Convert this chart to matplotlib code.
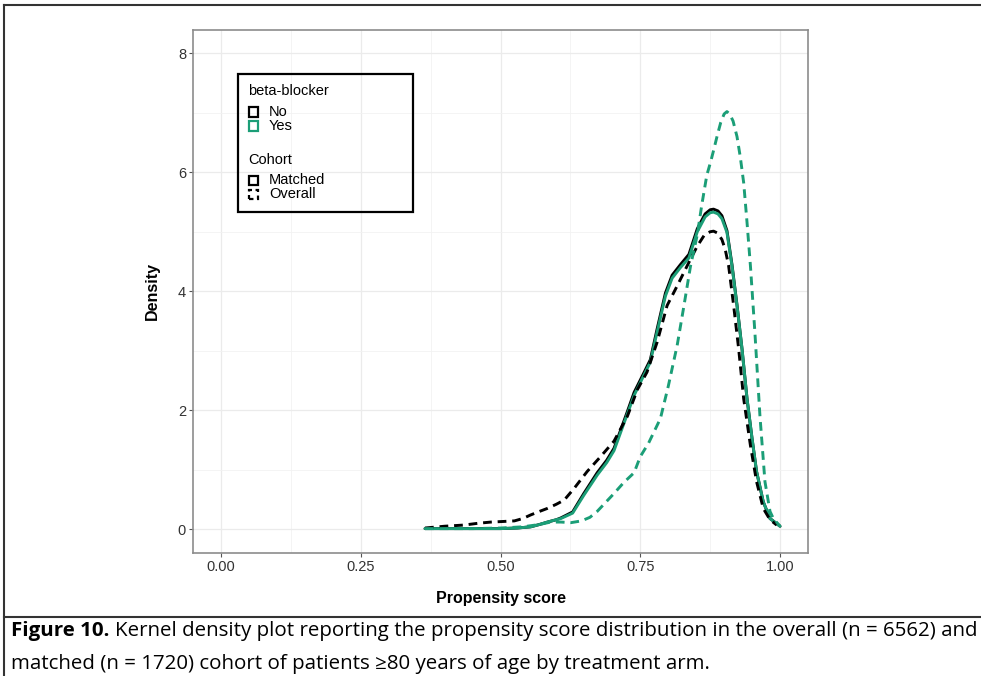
import numpy as np
import matplotlib
matplotlib.use("Agg")
import matplotlib.pyplot as plt
from matplotlib.patches import Rectangle
from matplotlib.lines import Line2D

# Density curves (propensity score vs density)
no_overall_x = [0.365, 0.40, 0.435, 0.46, 0.483, 0.505, 0.525, 0.54, 0.554, 0.57,
                0.584, 0.60, 0.614, 0.632, 0.655, 0.679, 0.703, 0.727, 0.745, 0.762,
                0.780, 0.798, 0.816, 0.834, 0.852, 0.865, 0.875, 0.881, 0.888, 0.896,
                0.902, 0.908, 0.917, 0.926, 0.935, 0.947, 0.958, 0.970, 0.982, 0.994]
no_overall_y = [0.02, 0.05, 0.07, 0.10, 0.12, 0.13, 0.14, 0.18, 0.24, 0.30,
                0.35, 0.42, 0.49, 0.69, 0.97, 1.22, 1.48, 1.90, 2.35, 2.64,
                3.14, 3.76, 4.09, 4.43, 4.76, 4.95, 5.00, 5.01, 4.98, 4.87,
                4.70, 4.43, 3.76, 3.03, 2.19, 1.41, 0.80, 0.35, 0.16, 0.07]

matched_x = [0.365, 0.40, 0.45, 0.50, 0.53, 0.554, 0.57, 0.584, 0.60, 0.608,
             0.629, 0.649, 0.673, 0.690, 0.703, 0.727, 0.739, 0.756, 0.768, 0.780,
             0.795, 0.807, 0.822, 0.837, 0.852, 0.866, 0.875, 0.881, 0.889, 0.896,
             0.905, 0.914, 0.923, 0.932, 0.941, 0.950, 0.958, 0.970, 0.982, 1.0]
no_matched_y = [0.01, 0.01, 0.01, 0.01, 0.02, 0.04, 0.08, 0.12, 0.16, 0.19,
                0.29, 0.60, 0.95, 1.16, 1.36, 1.98, 2.30, 2.62, 2.85, 3.36,
                3.97, 4.27, 4.45, 4.62, 5.05, 5.30, 5.37, 5.38, 5.35, 5.27,
                5.02, 4.45, 3.77, 3.03, 2.19, 1.52, 0.97, 0.46, 0.18, 0.05]
yes_matched_y = [0.01, 0.01, 0.01, 0.01, 0.02, 0.04, 0.08, 0.12, 0.16, 0.18,
                 0.27, 0.57, 0.91, 1.12, 1.32, 1.94, 2.25, 2.58, 2.81, 3.31,
                 3.92, 4.22, 4.40, 4.56, 5.00, 5.25, 5.32, 5.33, 5.30, 5.22,
                 4.99, 4.43, 3.76, 3.03, 2.19, 1.52, 0.97, 0.46, 0.18, 0.05]

yes_overall_x = [0.365, 0.40, 0.45, 0.50, 0.54, 0.57, 0.59, 0.608, 0.626, 0.645,
                 0.660, 0.673, 0.688, 0.703, 0.720, 0.739, 0.750, 0.765, 0.786, 0.800,
                 0.816, 0.828, 0.840, 0.852, 0.860, 0.869, 0.876, 0.882, 0.888, 0.894,
                 0.900, 0.905, 0.910, 0.916, 0.923, 0.929, 0.935, 0.941, 0.947, 0.955,
                 0.964, 0.973, 0.982, 0.988, 1.0]
yes_overall_y = [0.01, 0.01, 0.01, 0.02, 0.04, 0.08, 0.12, 0.12, 0.11, 0.14,
                 0.20, 0.30, 0.45, 0.60, 0.78, 0.95, 1.22, 1.45, 1.86, 2.40,
                 3.09, 3.75, 4.43, 4.95, 5.45, 5.95, 6.18, 6.40, 6.63, 6.84,
                 6.98, 7.02, 6.98, 6.86, 6.60, 6.25, 5.82, 5.15, 4.43, 3.31,
                 1.91, 0.80, 0.30, 0.18, 0.05]

x_ticks = [0.00, 0.25, 0.50, 0.75, 1.00]
x_ticklabels = ["0.00", "0.25", "0.50", "0.75", "1.00"]
y_ticks = [0, 2, 4, 6, 8]

caption_bold = "Figure 10."
caption_line1 = "Kernel density plot reporting the propensity score distribution in the overall (n = 6562) and"
caption_line2 = "matched (n = 1720) cohort of patients \u226580 years of age by treatment arm."

GREEN = "#1B9E77"
W, H = 981, 676

plt.rcParams["font.family"] = ["Liberation Sans", "DejaVu Sans"]

fig = plt.figure(figsize=(W / 100, H / 100), dpi=100)
fig.patch.set_facecolor("white")

def fx(px):
    return px / W

def fy(py):
    return 1 - py / H

ax = fig.add_axes([fx(193), fy(553), (808 - 193) / W, (553 - 29.5) / H])

lw = 2.1
dash = (0, (3.0, 2.0))
ax.plot(matched_x, no_matched_y, color="black", lw=lw, solid_capstyle="round")
ax.plot(matched_x, yes_matched_y, color=GREEN, lw=lw, solid_capstyle="round")
ax.plot(no_overall_x, no_overall_y, color="black", lw=lw, linestyle=dash)
ax.plot(yes_overall_x, yes_overall_y, color=GREEN, lw=lw, linestyle=dash)

ax.set_xlim(-0.05, 1.05)
ax.set_ylim(-0.4, 8.4)
ax.set_xticks(x_ticks)
ax.set_xticklabels(x_ticklabels)
ax.set_yticks(y_ticks)
ax.set_xticks([0.125, 0.375, 0.625, 0.875], minor=True)
ax.set_yticks([1, 3, 5, 7], minor=True)
ax.tick_params(which="major", length=3, width=0.8, color="#555555",
               labelsize=10.5, labelcolor="#333333", pad=2)
ax.tick_params(which="minor", length=0)
ax.grid(which="major", color="#ebebeb", lw=0.9)
ax.grid(which="minor", color="#f2f2f2", lw=0.6)
ax.set_axisbelow(True)
for s in ax.spines.values():
    s.set_color("#8c8c8c")
    s.set_linewidth(1.2)

ax.set_xlabel("Propensity score", fontsize=11.5, fontweight="bold", labelpad=12)
ax.set_ylabel("Density", fontsize=11.5, fontweight="bold", labelpad=13)

# legend drawn by hand to match the ggplot layout
fig.patches.append(Rectangle((fx(237.5), fy(211.5)), (412.5 - 237.5) / W, (211.5 - 74) / H,
                             transform=fig.transFigure, fill=False, ec="black", lw=1.6))
fs = 10.5
fig.text(fx(248), fy(91), "beta-blocker", fontsize=fs, va="center", ha="left")
fig.text(fx(248), fy(159.5), "Cohort", fontsize=fs, va="center", ha="left")
keys = [("No", 112, "black", "-"), ("Yes", 126, GREEN, "-"),
        ("Matched", 180, "black", "-"), ("Overall", 194, "black", (0, (2.0, 1.6)))]
for label, yc, col, ls in keys:
    fig.patches.append(Rectangle((fx(249), fy(yc + 4.5)), 9 / W, 9 / H,
                                 transform=fig.transFigure, fill=False, ec=col,
                                 lw=1.6, linestyle=ls))
    fig.text(fx(269), fy(yc), label, fontsize=fs, va="center", ha="left")

# outer frame and caption box
for xs, ys in [((4, 4), (5, 676)), ((4, 981), (5, 5)), ((4, 981), (617, 617))]:
    fig.lines.append(Line2D([fx(v) for v in xs], [fy(v) for v in ys],
                            transform=fig.transFigure, color="#333333", lw=1.5))

# caption: size fitted so the first line spans the box like the original
cap_font = ["Open Sans", "DejaVu Sans"]
renderer = fig.canvas.get_renderer()
probe = fig.text(0, 0, caption_bold + " " + caption_line1, fontsize=10, family=cap_font)
w10 = probe.get_window_extent(renderer).width
probe.remove()
cap_fs = 10 * (970 - 11) / w10

t_bold = fig.text(fx(11), fy(631), caption_bold, fontsize=cap_fs, fontweight="bold",
                  family=cap_font, va="center", ha="left")
bb = t_bold.get_window_extent(renderer)
fig.text(bb.x1 / W + 6 / W, fy(631), caption_line1,
         fontsize=cap_fs, family=cap_font, va="center", ha="left")
fig.text(fx(11), fy(664), caption_line2,
         fontsize=cap_fs, family=cap_font, va="center", ha="left")

fig.savefig("out.png", dpi=100)
